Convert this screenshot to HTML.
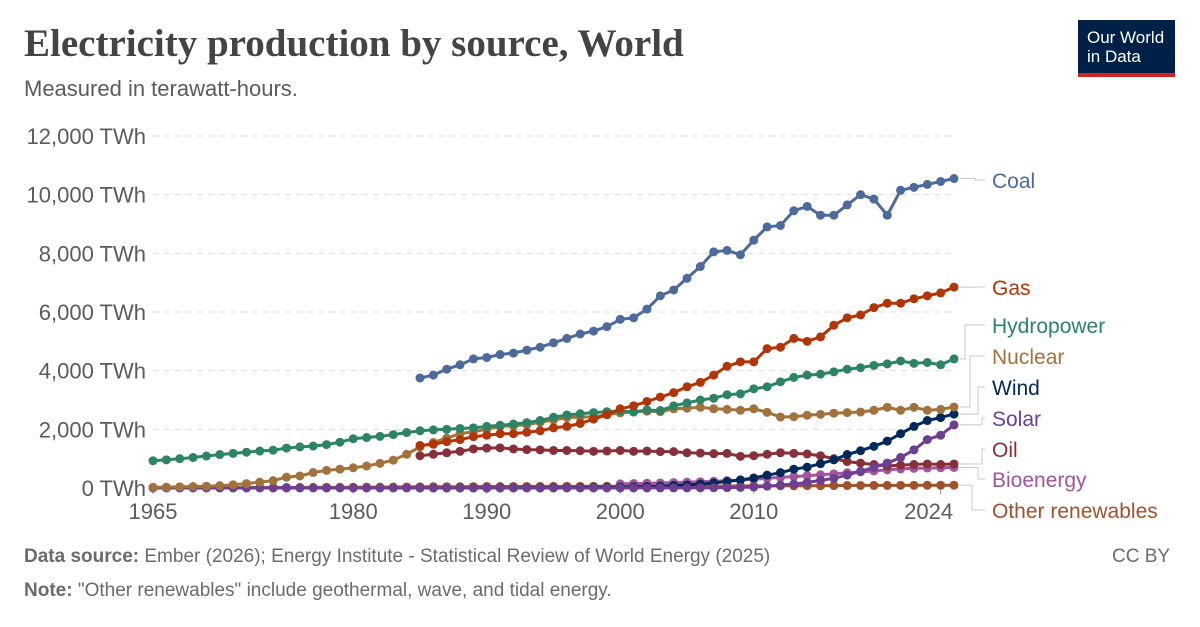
<!DOCTYPE html>
<html><head><meta charset="utf-8"><style>
body{margin:0;background:#fff;font-family:"Liberation Sans",sans-serif}
#wrap{position:relative;width:1200px;height:627px;overflow:hidden}
.t{position:absolute;white-space:nowrap}
</style></head><body>
<div id="wrap">
<div class="t" style="left:24px;top:21px;font-family:'Liberation Serif',serif;font-weight:bold;font-size:39px;color:#444">Electricity production by source, World</div>
<div class="t" style="left:24px;top:76px;font-size:22px;color:#5b5b5b">Measured in terawatt-hours.</div>
<div style="position:absolute;left:1078px;top:20px;width:97px;height:57px;background:#002147;border-bottom:4px solid #ce261e;box-sizing:border-box;color:#fff;font-size:17px;line-height:19px;padding:8px 0 0 9px">Our World<br>in Data</div>
<svg id="chart" width="1200" height="627" style="position:absolute;left:0;top:0"></svg>
<div class="t" style="left:24px;top:546px;font-size:19px;color:#6b6b6b"><b>Data source:</b> Ember (2026); Energy Institute - Statistical Review of World Energy (2025)</div>
<div class="t" style="left:1112px;top:546px;font-size:19px;color:#6b6b6b">CC BY</div>
<div class="t" style="left:24px;top:580px;font-size:19px;color:#6b6b6b"><b>Note:</b> "Other renewables" include geothermal, wave, and tidal energy.</div>
</div>
<script>
const yTicks=[0,2000,4000,6000,8000,10000,12000];
const xTickYears=[1965,1980,1990,2000,2010,2024];
const coalStart=1985;
const coal=[3750,3850,4050,4200,4400,4450,4550,4600,4700,4800,4950,5100,5250,5350,5500,5750,5800,6100,6550,6750,7150,7550,8050,8100,7950,8450,8900,8950,9450,9600,9300,9300,9650,10000,9850,9300,10150,10250,10350,10450,10550];
const gasStart=1985;
const gas=[1450,1490,1580,1650,1750,1800,1850,1850,1900,1950,2050,2100,2200,2350,2500,2700,2800,2950,3100,3250,3450,3600,3850,4150,4300,4300,4750,4800,5100,5000,5150,5550,5800,5900,6150,6300,6300,6450,6550,6650,6850];
const hydroStart=1965;
const hydro=[930,960,1000,1040,1090,1140,1180,1220,1260,1290,1360,1400,1430,1480,1560,1680,1720,1760,1820,1890,1950,1980,2000,2030,2050,2100,2140,2180,2230,2300,2410,2490,2530,2570,2600,2620,2590,2660,2640,2800,2900,3000,3060,3180,3210,3380,3450,3620,3770,3850,3880,3960,4050,4100,4180,4230,4330,4250,4280,4200,4400];
const nuclearStart=1965;
const nuclear=[25,30,40,50,60,80,110,150,200,250,370,410,530,600,640,690,750,840,950,1150,1400,1550,1700,1850,1920,2000,2100,2120,2160,2240,2320,2400,2420,2420,2500,2560,2600,2620,2600,2700,2720,2750,2700,2680,2650,2700,2580,2420,2430,2480,2510,2550,2570,2590,2650,2750,2650,2750,2650,2680,2760];
const oilStart=1985;
const oil=[1100,1150,1200,1250,1330,1360,1370,1330,1310,1300,1280,1280,1270,1250,1260,1280,1250,1260,1240,1240,1200,1190,1170,1180,1080,1100,1150,1200,1180,1160,1100,1000,900,850,800,750,780,800,820,800,820];
const windStart=1985;
const wind=[0,0,0,0,0,4,4,5,6,7,8,10,12,16,21,31,38,52,63,85,104,133,170,220,275,342,437,523,640,710,830,960,1140,1270,1420,1600,1850,2100,2300,2400,2520];
const solarStart=1965;
const solar=[0,0,0,0,0,0,0,0,0,0,0,0,0,0,0,0,0,0,0,0,0,0,0,0,0,0,0,0,0,0,0,0,0,0,0,1,2,2,3,3,4,5,7,12,20,32,63,100,135,190,260,330,440,570,700,850,1040,1300,1650,1800,2150];
const bioStart=2000;
const bio=[140,150,160,170,185,200,215,230,250,270,300,330,360,390,420,450,480,520,550,580,620,650,670,680,690,700];
const otherStart=1965;
const other=[10,10,11,12,12,13,14,15,16,17,18,20,21,22,24,26,28,30,33,36,40,42,44,46,48,50,51,52,53,54,55,56,57,58,59,60,60,61,62,62,63,64,65,66,68,70,72,73,75,78,80,82,85,87,88,89,90,91,92,93,94];
const labelNames=["Coal","Gas","Hydropower","Nuclear","Wind","Solar","Oil","Bioenergy","Other renewables"];

const svg=document.getElementById('chart');const NS='http://www.w3.org/2000/svg';
const x=yr=>153+(yr-1965)*(954-153)/60;
const y=v=>488-v*(488-136)/12000;
function mk(tag,attrs){const e=document.createElementNS(NS,tag);for(const k in attrs)e.setAttribute(k,attrs[k]);svg.appendChild(e);return e;}
yTicks.forEach(v=>{
  if(v>0){const g=mk('line',{x1:153,x2:955,y1:y(v),y2:y(v),stroke:'#dcdcdc','stroke-dasharray':'6,5'});
  
  }
  const t=mk('text',{x:146,y:y(v)+8,'text-anchor':'end','font-size':22,fill:'#5b5b5b','font-family':'Liberation Sans,sans-serif'});
  t.textContent=v.toLocaleString('en-US')+' TWh';
  
  
});
xTickYears.forEach((yr,i)=>{
  const t=mk('text',{x:x(yr)-(i==xTickYears.length-1?12:0),y:519,'text-anchor':'middle','font-size':22,fill:'#5b5b5b','font-family':'Liberation Sans,sans-serif'});
  t.textContent=yr;
  
  
  const tk=mk('line',{x1:x(yr),x2:x(yr),y1:489,y2:494,stroke:'#999'});
  
  
});
const series=[
 ['other',other,otherStart,'#a0522d'],['bio',bio,bioStart,'#a2559c'],['oil',oil,oilStart,'#883039'],
 ['wind',wind,windStart,'#00295b'],['solar',solar,solarStart,'#6d3e91'],['nuclear',nuclear,nuclearStart,'#a2723c'],
 ['hydro',hydro,hydroStart,'#2c8465'],['gas',gas,gasStart,'#b13507'],['coal',coal,coalStart,'#4c6a9c']];
const ends={};
series.forEach(([n,d,s,c])=>{
  const pts=d.map((v,i)=>x(s+i).toFixed(1)+','+y(v).toFixed(1)).join(' ');
  const pl=mk('polyline',{points:pts,fill:'none',stroke:c,'stroke-width':3});
  
  
  d.forEach((v,i)=>{const cc=mk('circle',{cx:x(s+i),cy:y(v),r:4.5,fill:c});
  
  });
  ends[n]=[y(d[d.length-1]),c];
});
const order=['coal','gas','hydro','nuclear','wind','solar','oil','bio','other'];
const labelY=[180,287,325,356,387,418,449,479,510];
const elbowX=[975,975,965,970,978,982,982,978,972];
order.forEach((n,i)=>{
  const [yy,c]=ends[n];
  const ln=mk('polyline',{points:`960,${yy} ${elbowX[i]},${yy} ${elbowX[i]},${labelY[i]} 985,${labelY[i]}`,fill:'none',stroke:'#c8c8c8','stroke-width':1});
  
  
  const t=mk('text',{x:992,y:labelY[i]+8,'font-size':21,fill:c,'font-family':'Liberation Sans,sans-serif'});
  t.textContent=labelNames[i];
  
  
});
</script>
</body></html>
